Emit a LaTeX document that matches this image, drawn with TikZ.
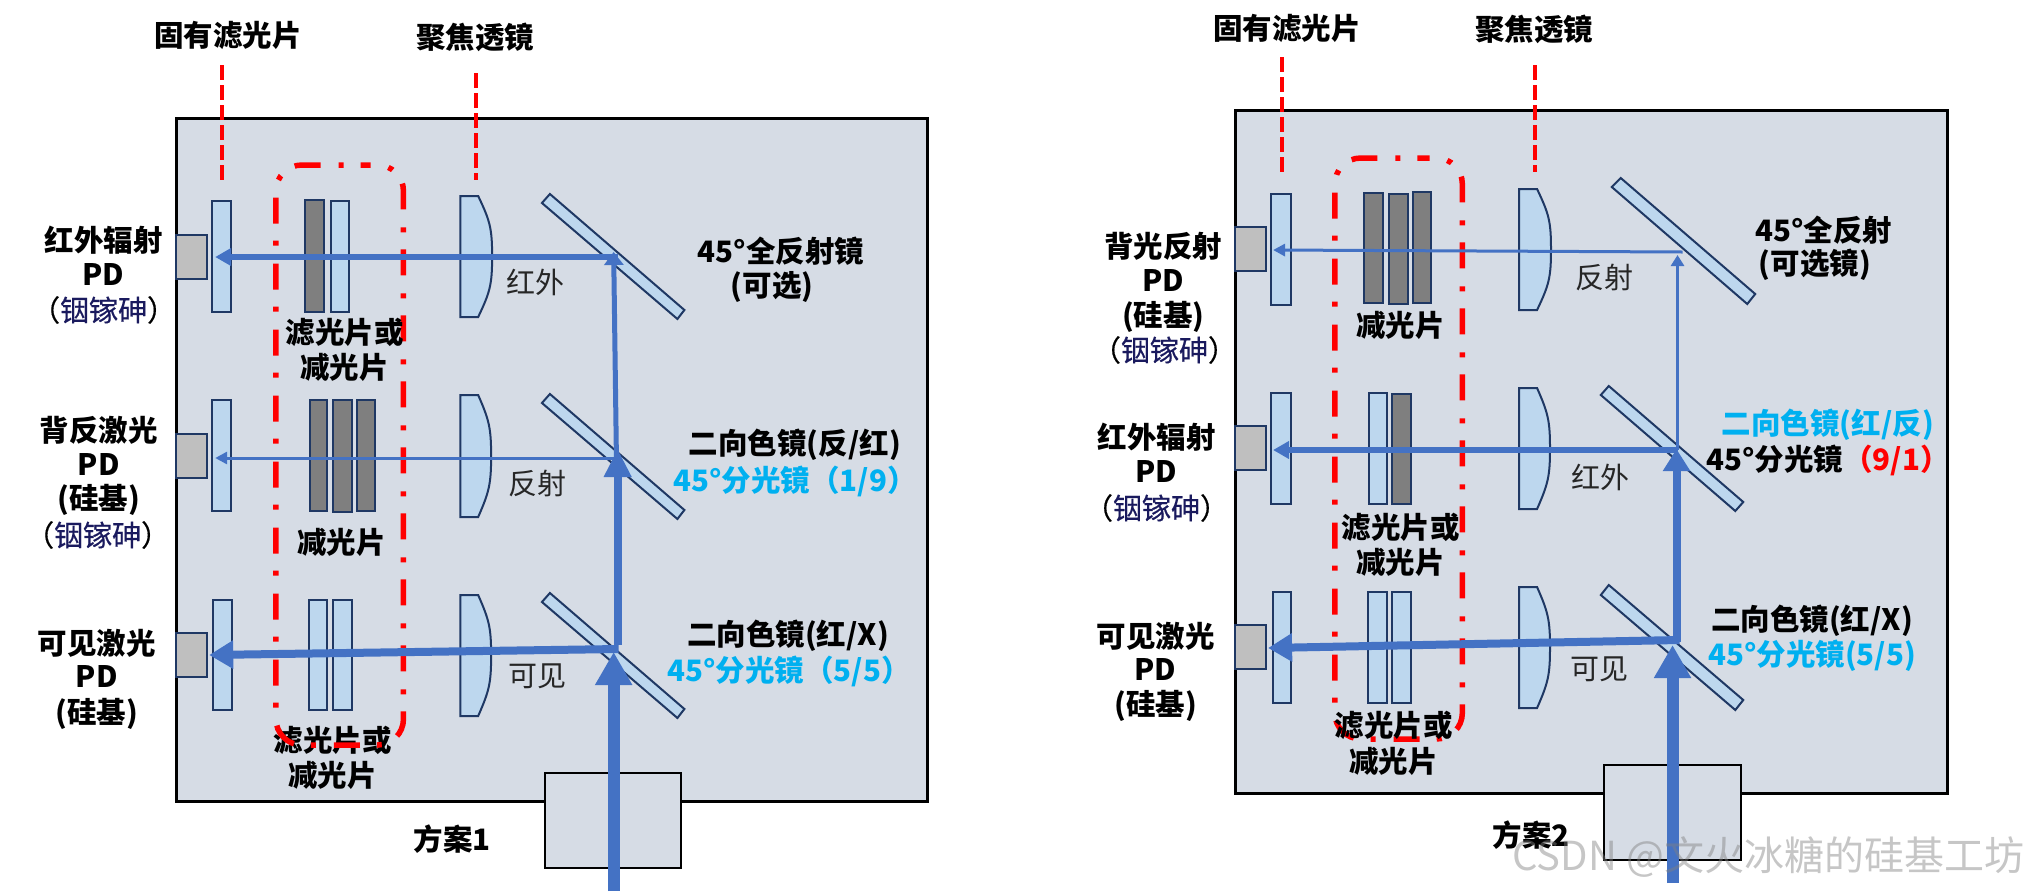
\documentclass[tikz,border=0pt]{standalone}
\usepackage{fontspec}
\setmainfont{Noto Sans CJK SC}
\newfontfamily\matfont[FakeBold=0.5]{Noto Sans CJK SC}
\usetikzlibrary{arrows.meta}
\definecolor{panelc}{HTML}{D6DCE5}
\definecolor{edgec}{HTML}{1F3864}
\definecolor{glassc}{HTML}{BDD7EE}
\definecolor{greyf}{HTML}{7F7F7F}
\definecolor{pdc}{HTML}{BFBFBF}
\definecolor{beamc}{HTML}{4472C4}
\definecolor{skyc}{HTML}{00B0F0}
\definecolor{navyc}{HTML}{1A1A5E}
\tikzset{
  panel/.style={draw=black,fill=panelc,line width=3pt},
  basebox/.style={draw=black,fill=panelc,line width=2pt},
  glass/.style={draw=edgec,fill=glassc,line width=2pt},
  nd/.style={draw=edgec,fill=greyf,line width=2pt},
  pdbox/.style={draw=edgec,fill=pdc,line width=2pt},
  leader/.style={draw=red,line width=4.5pt,dash pattern=on 15pt off 5pt},
  redgroup/.style={draw=red,line width=5.5pt,rounded corners=26pt,dash pattern=on 26pt off 18pt on 5pt off 17pt,dash phase=19pt},
  lab/.style={inner sep=0pt,font=\fontsize{29.5}{32}\selectfont\bfseries,text=black},
  bluelab/.style={lab,text=skyc},
  rayname/.style={inner sep=0pt,font=\fontsize{29}{32}\selectfont,text=black!85},
  matlab/.style={inner sep=0pt,font=\matfont\fontsize{29}{32}\selectfont},
  beamS/.style={draw=beamc,line width=3pt,-{Triangle[length=12pt,width=12pt]}},
  beamM/.style={draw=beamc,line width=6pt,-{Triangle[length=16pt,width=17pt]}},
  beamL/.style={draw=beamc,line width=8pt,-{Triangle[length=24pt,width=27pt]}},
  beamX/.style={draw=beamc,line width=12pt,-{Triangle[length=33pt,width=35pt]}},
  wmark/.style={inner sep=0pt,font=\fontsize{40}{42}\selectfont,text=gray,opacity=.45}
}
\newcommand{\lensat}[4]{\path[glass] (#1,#3) -- ({#1+18},#3) .. controls ({#2-2},{#3+25}) and (#2,{(#3+#4)/2-28}) .. (#2,{(#3+#4)/2}) .. controls (#2,{(#3+#4)/2+28}) and ({#2-2},{#4-25}) .. ({#1+18},#4) -- (#1,#4) -- cycle;}
\newcommand{\matlabel}{（\textcolor{navyc}{铟镓砷}）}
\begin{document}
\begin{tikzpicture}[x=1pt,y=-1pt]
\useasboundingbox (0,0) rectangle (2024,892);
% ---------- panel 1 ----------
\begin{scope}[x=.9962pt]
\path[panel] (177,118) rectangle (931,801);
\path[glass] (213,201) rectangle (232,312);
\path[glass] (213,400) rectangle (232,511);
\path[glass] (214,600) rectangle (233,710);
\path[pdbox] (177,235) rectangle (208,279);
\path[pdbox] (177,434) rectangle (208,478);
\path[pdbox] (177,633) rectangle (208,677);
\path[nd] (306,200) rectangle (325,312);
\path[glass] (332,201) rectangle (350,312);
\path[nd] (311,400) rectangle (328,511);
\path[nd] (334,400) rectangle (353,512);
\path[nd] (358,400) rectangle (376,511);
\path[glass] (310,600) rectangle (328,710);
\path[glass] (334,600) rectangle (353,710);
\lensat{462}{494}{196}{317}
\lensat{462}{493}{395}{517}
\lensat{462}{493}{595}{716}
\path[glass] (552,194) -- (544,203) -- (680,319) -- (687,310) -- cycle;
\path[glass] (552,394) -- (544,403) -- (680,519) -- (687,510) -- cycle;
\path[glass] (552,593) -- (544,602) -- (680,718) -- (687,709) -- cycle;
\node[lab] (a9) at (334,740) {滤光片或};
\draw[leader] (223,65) -- (223,180);
\draw[leader] (478,73) -- (478,180);
\draw[redgroup] (339,165) -- (405,165) -- (405,745) -- (277,745) -- (277,165) -- cycle;
\coordinate (a1s) at (620,257); \coordinate (a1t) at (216,257);
\coordinate (a2s) at (620,458); \coordinate (a2t) at (216,458);
\coordinate (a3s) at (621,649); \coordinate (a3t) at (210,655);
\coordinate (av1s) at (619,475); \coordinate (av1t) at (616,252);
\coordinate (av2s) at (620,645); \coordinate (av2t) at (620,449);
\coordinate (av3s) at (616,891); \coordinate (av3t) at (616,652);
\path[basebox] (547,773) rectangle (684,868);
\draw[beamM] (a1s) -- (a1t);
\draw[beamS] (a2s) -- (a2t);
\draw[beamL] (a3s) -- (a3t);
\draw[draw=beamc,line width=5pt,-{Triangle[length=13pt,width=19pt]}] (av1s) -- (av1t);
\draw[draw=beamc,line width=8pt,-{Triangle[length=28pt,width=26pt]}] (av2s) -- (av2t);
\draw[beamX] (av3s) -- (av3t);
\node[lab] (a10) at (229,35) {固有滤光片};
\node[lab] (a11) at (477,37) {聚焦透镜};
\node[lab] (a12) at (104,240) {红外辐射};
\node[lab] (a13) at (104,275) {PD};
\node[matlab] (a14) at (104,310) {\matlabel};
\node[lab] (a15) at (99,430) {背反激光};
\node[lab] (a16) at (99,465) {PD};
\node[lab] (a17) at (99,500) {(硅基)};
\node[matlab] (a18) at (98,535) {\matlabel};
\node[lab] (a19) at (97,643) {可见激光};
\node[lab] (a20) at (97,677) {PD};
\node[lab] (a21) at (97,714) {(硅基)};
\node[lab] (a22) at (346,332) {滤光片或};
\node[lab] (a23) at (346,367) {减光片};
\node[lab] (a24) at (343,542) {减光片};
\node[lab] (a25) at (334,775) {减光片};
\node[lab] (a26) at (454,839) {方案1};
\node[rayname] (a27) at (538,282) {红外};
\node[rayname] (a28) at (540,483) {反射};
\node[rayname] (a29) at (540,676) {可见};
\node[lab] (a30) at (784,251) {45°全反射镜};
\node[lab] (a31) at (775,287) {(可选)};
\node[lab] (a32) at (798,445) {二向色镜(反/红)};
\node[bluelab] (a33) at (798,481) {45°分光镜（1/9）};
\node[lab] (a34) at (791,636) {二向色镜(红/X)};
\node[bluelab] (a35) at (792,671) {45°分光镜（5/5）};
\end{scope}
% ---------- panel 2 ----------
\begin{scope}[x=.9962pt,xshift=3.9pt]
\path[panel] (1236,110) rectangle (1951,793);
\path[glass] (1272,194) rectangle (1292,305);
\path[glass] (1272,393) rectangle (1292,504);
\path[glass] (1274,592) rectangle (1292,703);
\path[pdbox] (1236,227) rectangle (1267,271);
\path[pdbox] (1236,426) rectangle (1267,470);
\path[pdbox] (1236,625) rectangle (1267,669);
\path[nd] (1365,193) rectangle (1384,303);
\path[nd] (1390,194) rectangle (1409,304);
\path[nd] (1414,192) rectangle (1433,303);
\path[glass] (1370,393) rectangle (1388,504);
\path[nd] (1393,394) rectangle (1412,504);
\path[glass] (1369,592) rectangle (1388,703);
\path[glass] (1393,592) rectangle (1412,703);
\lensat{1521}{1553}{189}{310}
\lensat{1521}{1552}{388}{509}
\lensat{1521}{1552}{587}{708}
\path[glass] (1623,178) -- (1614,187) -- (1750,304) -- (1758,294) -- cycle;
\path[glass] (1611,386) -- (1603,395) -- (1738,511) -- (1746,502) -- cycle;
\path[glass] (1611,585) -- (1603,595) -- (1738,710) -- (1746,700) -- cycle;
\draw[leader] (1283,57) -- (1283,172);
\draw[leader] (1537,65) -- (1537,172);
\draw[redgroup] (1398,158) -- (1464,158) -- (1464,739) -- (1336,739) -- (1336,158) -- cycle;
\coordinate (b1s) at (1685,252); \coordinate (b1t) at (1274,250);
\coordinate (b2s) at (1680,450); \coordinate (b2t) at (1274,450);
\coordinate (b3s) at (1682,640); \coordinate (b3t) at (1269,648);
\coordinate (bv1s) at (1680,450); \coordinate (bv1t) at (1680,255);
\coordinate (bv2s) at (1679,642); \coordinate (bv2t) at (1679,449);
\coordinate (bv3s) at (1675,883); \coordinate (bv3t) at (1675,645);
\path[basebox] (1606,765) rectangle (1744,860);
\draw[beamS] (b1s) -- (b1t);
\draw[beamM] (b2s) -- (b2t);
\draw[beamL] (b3s) -- (b3t);
\draw[draw=beamc,line width=3pt,-{Triangle[length=11pt,width=13pt]}] (bv1s) -- (bv1t);
\draw[draw=beamc,line width=8pt,-{Triangle[length=22pt,width=26pt]}] (bv2s) -- (bv2t);
\draw[beamX] (bv3s) -- (bv3t);
\node[lab] (b10) at (1288,28) {固有滤光片};
\node[lab] (b11) at (1536,29) {聚焦透镜};
\node[lab] (b12) at (1164,246) {背光反射};
\node[lab] (b13) at (1164,281) {PD};
\node[lab] (b14) at (1164,317) {(硅基)};
\node[matlab] (b15) at (1165,350) {\matlabel};
\node[lab] (b16) at (1157,437) {红外辐射};
\node[lab] (b17) at (1157,472) {PD};
\node[matlab] (b18) at (1157,508) {\matlabel};
\node[lab] (b19) at (1156,636) {可见激光};
\node[lab] (b20) at (1156,670) {PD};
\node[lab] (b21) at (1156,706) {(硅基)};
\node[lab] (b22) at (1402,325) {减光片};
\node[lab] (b23) at (1402,527) {滤光片或};
\node[lab] (b24) at (1402,562) {减光片};
\node[lab] (b25) at (1395,725) {滤光片或};
\node[lab] (b26) at (1395,761) {减光片};
\node[rayname] (b27) at (1607,278) {反射};
\node[rayname] (b28) at (1603,477) {红外};
\node[rayname] (b29) at (1602,669) {可见};
\node[lab] (b30) at (1827,230) {45°全反射};
\node[lab] (b31) at (1818,265) {(可选镜)};
\node[bluelab] (b32) at (1831,425) {二向色镜(红/反)};
\node[lab] (b33) at (1831,460) {45°分光镜\textcolor{red}{（9/1）}};
\node[lab] (b34) at (1815,621) {二向色镜(红/X)};
\node[bluelab] (b35) at (1815,656) {45°分光镜(5/5)};
\node[lab] (b36) at (1533,835) {方案2};
\node[wmark,anchor=east] (b37) at (2028,857) {CSDN @文火冰糖的硅基工坊};
\end{scope}
\end{tikzpicture}
\end{document}
